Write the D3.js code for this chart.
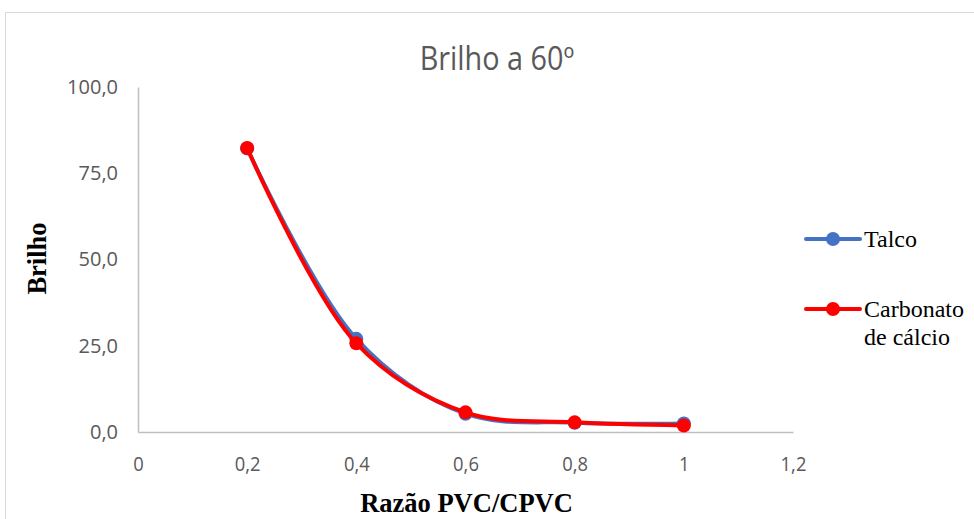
<!DOCTYPE html>
<html lang="en">
<head>
  <meta charset="UTF-8">
  <title>Brilho a 60º</title>
  <style>
    body { margin: 0; background: #fff; }
  </style>
</head>
<body>
  <svg id="svg" width="974" height="519"></svg>

  <script src="https://d3js.org/d3.v7.min.js"></script>
  <script>
    // data
    const ratios = [0.2, 0.4, 0.6, 0.8, 1.0]
    const talco = [82.2, 27.0, 5.3, 2.7, 2.5]
    const carbonato = [82.3, 25.7, 5.7, 2.8, 1.9]
    const seriesNames = ['Talco', 'Carbonato de cálcio']
    const xTicks = [0, 0.2, 0.4, 0.6, 0.8, 1, 1.2]
    const yTicks = [0, 25, 50, 75, 100]

    const series = [
      { name: seriesNames[0], values: talco, color: '#4472c4' },
      { name: seriesNames[1], values: carbonato, color: '#ff0000' }
    ]

    // CONSTANTS
    const margin = { top: 87, right: 181, bottom: 87, left: 138 }
    const W = 974, H = 519
    const tickFont = '"Open Sans", sans-serif'
    const serif = '"Liberation Serif", "DejaVu Serif", serif'

    const svg = d3.select('#svg')

    // chart border
    svg.append('rect')
      .attr('x', 5.5).attr('y', 12.5)
      .attr('width', W).attr('height', H)
      .attr('fill', 'none').attr('stroke', '#d9d9d9')

    // ------ SCALES ------------------------
    const xscale = d3.scaleLinear()
      .domain([0, 1.2])
      .range([margin.left, W - margin.right])
    const yscale = d3.scaleLinear()
      .domain([0, 100])
      .range([H - margin.bottom, margin.top])

    const fmt = d => d3.format('.1f')(d).replace('.', ',')

    // ------ AXES ------------------------
    const bottomAxis = d3.axisBottom(xscale)
      .tickValues(xTicks)
      .tickSize(0)
      .tickPadding(25)
      .tickFormat(d => String(d).replace('.', ','))
    const gx = svg.append('g')
      .attr('transform', `translate(0, ${yscale(0)})`)
      .call(bottomAxis)
    gx.select('.domain').attr('stroke', '#bfbfbf').attr('stroke-width', 1.5)
    gx.selectAll('text')
      .style('font-family', tickFont).style('font-size', '20px')
      .attr('fill', '#595959').attr('transform', 'scale(0.92,1)')

    const leftAxis = d3.axisLeft(yscale)
      .tickValues(yTicks)
      .tickSize(0)
      .tickPadding(20)
      .tickFormat(fmt)
    const gy = svg.append('g')
      .attr('transform', `translate(${xscale(0)}, 0)`)
      .call(leftAxis)
    gy.select('.domain').attr('stroke', '#bfbfbf').attr('stroke-width', 1.5)
    gy.selectAll('text')
      .style('font-family', tickFont).style('font-size', '20px').attr('fill', '#595959')

    // ------ LINES ------------------------
    const line = d3.line()
      .x((d, i) => xscale(ratios[i]))
      .y(d => yscale(d))
      .curve(d3.curveCatmullRom.alpha(0.5))

    series.forEach(s => {
      const g = svg.append('g')
      g.append('path')
        .attr('d', line(s.values))
        .attr('fill', 'none')
        .attr('stroke', s.color)
        .attr('stroke-width', 4)
        .attr('stroke-linecap', 'round')
      g.selectAll('circle')
        .data(s.values)
        .enter()
        .append('circle')
        .attr('cx', (d, i) => xscale(ratios[i]))
        .attr('cy', d => yscale(d))
        .attr('r', 7)
        .attr('fill', s.color)
    })

    // ------ TITLES ------------------------
    svg.append('text')
      .attr('x', 497).attr('y', 70)
      .attr('text-anchor', 'middle')
      .style('font-family', tickFont)
      .style('font-size', '32px')
      .attr('fill', '#595959')
      .attr('transform', 'translate(497,0) scale(0.9,1) translate(-497,0)')
      .text('Brilho a 60º')

    svg.append('text')
      .attr('x', (xscale(0) + xscale(1.2)) / 2 + 1).attr('y', 512)
      .attr('text-anchor', 'middle')
      .style('font-family', serif)
      .style('font-size', '26.5px')
      .style('font-weight', 'bold')
      .text('Razão PVC/CPVC')

    svg.append('text')
      .attr('transform', `translate(46, ${yscale(50) - 1}) rotate(-90)`)
      .attr('text-anchor', 'middle')
      .style('font-family', serif)
      .style('font-size', '26.5px')
      .style('font-weight', 'bold')
      .text('Brilho')

    // ------ LEGEND ------------------------
    const legendY = [239, 309]
    series.forEach((s, i) => {
      const g = svg.append('g').attr('transform', `translate(806, ${legendY[i]})`)
      g.append('line')
        .attr('x1', 0).attr('x2', 54)
        .attr('stroke', s.color).attr('stroke-width', 4).attr('stroke-linecap', 'round')
      g.append('circle').attr('cx', 27).attr('r', 7).attr('fill', s.color)
      const words = i === 0 ? [s.name] : ['Carbonato', 'de cálcio']
      const t = g.append('text')
        .attr('x', 58).attr('y', 8)
        .style('font-family', serif).style('font-size', '24px')
      words.forEach((w, j) => {
        t.append('tspan').attr('x', 58).attr('dy', j === 0 ? 0 : 28).text(w)
      })
    })
  </script>
</body>
</html>
